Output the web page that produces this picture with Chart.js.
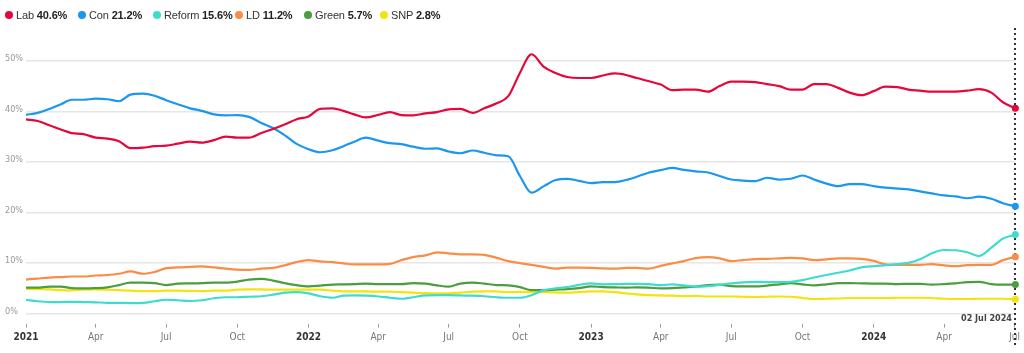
<!DOCTYPE html>
<html>
<head>
<meta charset="utf-8">
<script src="https://cdn.jsdelivr.net/npm/chart.js@4.4.1/dist/chart.umd.min.js"></script>
<style>
  html, body { margin: 0; padding: 0; background: #fff; }
  #wrap { position: relative; width: 1024px; height: 353px; }
  #chart { position: absolute; left: 0; top: 0; }
  #legend {
    position: absolute; left: 0; top: 8px; width: 600px; height: 14px;
    font: 11px 'Liberation Sans', Arial, sans-serif; color: #333;
    letter-spacing: -0.15px; line-height: 14px;
  }
  #legend .item { position: absolute; top: 0; display: flex; align-items: center; white-space: pre; }
  #legend .dot { width: 8px; height: 8px; border-radius: 50%; margin-right: 3px; }
  #legend b { color: #222; }
</style>
</head>
<body>
<div id="wrap">
  <canvas id="chart" width="1024" height="353"></canvas>
  <div id="legend"></div>
</div>
<script>
// sample dates (1st and 16th of each month)
const dates = [
  '2021-01-01','2021-01-16','2021-02-01','2021-02-15','2021-03-01','2021-03-16','2021-04-01','2021-04-16','2021-05-01','2021-05-16','2021-06-01','2021-06-16',
  '2021-07-01','2021-07-16','2021-08-01','2021-08-16','2021-09-01','2021-09-16','2021-10-01','2021-10-16','2021-11-01','2021-11-16','2021-12-01','2021-12-16',
  '2022-01-01','2022-01-16','2022-02-01','2022-02-15','2022-03-01','2022-03-16','2022-04-01','2022-04-16','2022-05-01','2022-05-16','2022-06-01','2022-06-16',
  '2022-07-01','2022-07-16','2022-08-01','2022-08-16','2022-09-01','2022-09-16','2022-10-01','2022-10-16','2022-11-01','2022-11-16','2022-12-01','2022-12-16',
  '2023-01-01','2023-01-16','2023-02-01','2023-02-15','2023-03-01','2023-03-16','2023-04-01','2023-04-16','2023-05-01','2023-05-16','2023-06-01','2023-06-16',
  '2023-07-01','2023-07-16','2023-08-01','2023-08-16','2023-09-01','2023-09-16','2023-10-01','2023-10-16','2023-11-01','2023-11-16','2023-12-01','2023-12-16',
  '2024-01-01','2024-01-16','2024-02-01','2024-02-15','2024-03-01','2024-03-16','2024-04-01','2024-04-16','2024-05-01','2024-05-16','2024-06-01','2024-06-16',
  '2024-07-02'
];

const lab = [
  38.4, 38.1, 37.2, 36.4, 35.7, 35.5, 34.8, 34.6, 34.1, 32.7, 32.8, 33.1, 33.2, 33.6, 34.0, 33.8, 34.3, 35.0, 34.8, 34.8, 35.7, 36.5, 37.4, 38.4,
  39.0, 40.5, 40.6, 40.1, 39.4, 38.8, 39.3, 39.85, 39.25, 39.2, 39.6, 39.85, 40.4, 40.5, 39.7, 40.6, 41.6, 43.0, 47.6, 51.3, 48.8, 47.6, 46.8, 46.6,
  46.6, 47.1, 47.5, 47.2, 46.6, 46.0, 45.3, 44.2, 44.3, 44.3, 43.9, 45.0, 45.9, 45.9, 45.8, 45.4, 45.0, 44.3, 44.3, 45.4, 45.4, 44.65, 43.7, 43.2,
  44.0, 44.9, 44.8, 44.3, 44.1, 43.9, 43.9, 43.9, 44.1, 44.4, 43.7, 41.8, 40.6
];
const con = [
  39.3, 39.7, 40.5, 41.4, 42.3, 42.3, 42.5, 42.4, 42.0, 43.3, 43.5, 43.1, 42.2, 41.4, 40.6, 40.1, 39.4, 39.2, 39.25, 38.9, 37.7, 36.7, 35.3, 33.6,
  32.5, 31.9, 32.3, 33.1, 34.0, 34.8, 34.2, 33.7, 33.5, 33.0, 32.6, 32.65, 32.05, 31.7, 32.25, 31.8, 31.3, 31.1, 27.2, 23.9, 25.2, 26.4, 26.65, 26.25,
  25.8, 26.0, 26.0, 26.4, 27.05, 27.85, 28.35, 28.8, 28.4, 28.1, 27.9, 27.2, 26.5, 26.3, 26.2, 26.85, 26.5, 26.65, 27.3, 26.5, 25.7, 25.2, 25.6, 25.6,
  25.2, 24.9, 24.7, 24.55, 24.15, 23.75, 23.35, 23.15, 22.8, 23.1, 22.7, 21.8, 21.2
];
const reform = [
  2.7, 2.4, 2.25, 2.25, 2.3, 2.25, 2.2, 2.1, 2.1, 2.05, 2.1, 2.4, 2.7, 2.6, 2.45, 2.6, 3.0, 3.2, 3.2, 3.3, 3.4, 3.7, 4.1, 4.2,
  3.95, 3.4, 3.1, 3.5, 3.55, 3.5, 3.35, 3.1, 2.9, 3.2, 3.55, 3.6, 3.6, 3.55, 3.5, 3.4, 3.2, 3.1, 3.1, 3.6, 4.6, 4.95, 5.2, 5.65,
  5.95, 5.75, 5.8, 5.85, 5.85, 5.8, 5.6, 5.75, 5.55, 5.3, 5.4, 5.65, 5.95, 6.15, 6.25, 6.2, 6.2, 6.25, 6.6, 7.1, 7.6, 8.05, 8.5, 9.1,
  9.35, 9.55, 9.75, 10.0, 10.7, 11.9, 12.55, 12.5, 12.1, 11.35, 13.0, 14.8, 15.6
];
const ld = [
  6.7, 6.9, 7.1, 7.2, 7.3, 7.3, 7.5, 7.6, 7.85, 8.3, 7.85, 8.2, 8.95, 9.1, 9.2, 9.3, 9.1, 8.85, 8.65, 8.6, 8.85, 9.0, 9.5, 10.15,
  10.55, 10.3, 10.15, 9.9, 9.7, 9.7, 9.7, 9.8, 10.55, 11.15, 11.5, 12.1, 11.9, 11.7, 11.7, 11.6, 11.0, 10.35, 9.95, 9.6, 9.2, 8.85, 9.05, 9.05,
  9.0, 8.9, 8.85, 9.0, 9.0, 8.85, 9.4, 9.9, 10.35, 10.95, 11.15, 10.9, 10.35, 10.55, 10.75, 10.8, 10.9, 11.0, 10.9, 10.55, 10.7, 10.9, 10.9, 10.8,
  10.4, 9.7, 9.6, 9.6, 9.6, 9.75, 9.5, 9.35, 9.55, 9.6, 9.6, 10.55, 11.2
];
const green = [
  5.1, 5.1, 5.3, 5.3, 5.0, 4.95, 5.0, 5.15, 5.6, 6.1, 6.1, 6.0, 5.6, 5.9, 5.95, 6.0, 6.1, 6.1, 6.3, 6.7, 6.85, 6.5, 6.0, 5.6,
  5.35, 5.5, 5.7, 5.75, 5.8, 5.9, 5.8, 5.8, 5.8, 6.0, 5.9, 5.55, 5.3, 5.9, 6.1, 5.9, 5.6, 5.55, 5.2, 4.6, 4.6, 4.7, 4.8, 5.0,
  5.35, 5.2, 5.15, 5.1, 5.15, 5.1, 4.95, 5.0, 5.15, 5.3, 5.6, 5.7, 5.4, 5.35, 5.35, 5.5, 5.75, 6.0, 5.75, 5.55, 5.75, 6.0, 6.0, 5.95,
  5.9, 5.9, 5.8, 5.85, 5.85, 5.7, 5.8, 5.95, 6.2, 6.25, 5.8, 5.7, 5.7
];
const snp = [
  4.9, 4.8, 4.75, 4.6, 4.55, 4.7, 4.75, 4.7, 4.6, 4.5, 4.4, 4.4, 4.5, 4.5, 4.45, 4.4, 4.5, 4.5, 4.7, 4.75, 4.75, 4.7, 4.7, 4.7,
  4.7, 4.7, 4.5, 4.35, 4.35, 4.35, 4.3, 4.3, 4.2, 4.1, 4.0, 3.95, 3.95, 4.1, 4.3, 4.35, 4.35, 4.2, 4.25, 4.2, 4.2, 4.15, 4.1, 4.2,
  4.35, 4.35, 4.2, 3.95, 3.75, 3.6, 3.55, 3.5, 3.4, 3.45, 3.35, 3.35, 3.35, 3.3, 3.25, 3.3, 3.35, 3.3, 3.05, 2.85, 2.9, 2.95, 3.05, 3.05,
  3.05, 3.05, 3.1, 3.1, 3.1, 3.05, 2.9, 2.85, 2.85, 2.9, 2.9, 2.9, 2.8
];

const tickDates = [
  '2021-01-01','2021-04-01','2021-07-01','2021-10-01',
  '2022-01-01','2022-04-01','2022-07-01','2022-10-01',
  '2023-01-01','2023-04-01','2023-07-01','2023-10-01',
  '2024-01-01','2024-04-01','2024-07-01'
];
const tickLabels = ['2021','Apr','Jul','Oct','2022','Apr','Jul','Oct','2023','Apr','Jul','Oct','2024','Apr','Jul'];
const yTicks = [0, 10, 20, 30, 40, 50];
const lastLabel = '02 Jul 2024';

const t0 = Date.parse('2021-01-01');
const toDay = d => Math.round((Date.parse(d) - t0) / 86400000);
const days = dates.map(toDay);
const tickDays = tickDates.map(toDay);
const lastDay = days[days.length - 1];

const parties = [
  { name: 'Lab', values: lab, color: '#e5063c' },
  { name: 'Con', values: con, color: '#1a97f0' },
  { name: 'Reform', values: reform, color: '#3ddccd' },
  { name: 'LD', values: ld, color: '#fb8c45' },
  { name: 'Green', values: green, color: '#4b9d3f' },
  { name: 'SNP', values: snp, color: '#f3e30e' }
];
// left edge of each legend entry, px
const legendLeft = [5, 78, 153, 235, 304, 380];

const axisFont = "'Liberation Sans Narrow', 'DejaVu Sans Condensed', Arial, sans-serif";

// legend (html)
const legend = document.getElementById('legend');
parties.forEach((p, i) => {
  const last = p.values[p.values.length - 1];
  const item = document.createElement('div');
  item.className = 'item';
  item.style.left = legendLeft[i] + 'px';
  item.innerHTML = `<span class="dot" style="background:${p.color}"></span>${p.name} <b>${last.toFixed(1)}%</b>`;
  legend.appendChild(item);
});

// dotted end line + date label
const endMarker = {
  id: 'endMarker',
  beforeDatasetsDraw(chart) {
    const { ctx, chartArea, scales: { x, y } } = chart;
    const px = Math.round(x.getPixelForValue(lastDay));
    ctx.save();
    ctx.strokeStyle = '#333';
    ctx.lineWidth = 2;
    ctx.setLineDash([2, 3]);
    ctx.beginPath();
    ctx.moveTo(px, chartArea.top);
    ctx.lineTo(px, chart.height - 5);
    ctx.stroke();
    ctx.setLineDash([]);
    ctx.font = `bold 9px ${axisFont}`;
    ctx.fillStyle = '#444';
    ctx.textAlign = 'right';
    ctx.textBaseline = 'middle';
    ctx.fillText(lastLabel, px - 3, y.getPixelForValue(-1));
    ctx.restore();
  }
};

new Chart(document.getElementById('chart'), {
  type: 'line',
  data: {
    datasets: parties.map(p => ({
      label: p.name,
      data: p.values.map((v, i) => ({ x: days[i], y: v })),
      borderColor: p.color,
      backgroundColor: p.color,
      borderWidth: 2.2,
      cubicInterpolationMode: 'monotone',
      pointRadius: c => (c.dataIndex === p.values.length - 1 ? 3.5 : 0),
      pointBorderWidth: 0,
      pointHoverRadius: 0,
      clip: false
    }))
  },
  options: {
    responsive: false,
    animation: false,
    devicePixelRatio: 1,
    layout: { padding: { top: 28, left: 5, right: 7.5, bottom: 0 } },
    plugins: { legend: { display: false }, tooltip: { enabled: false } },
    scales: {
      x: {
        type: 'linear',
        min: 0,
        max: lastDay,
        afterBuildTicks: s => { s.ticks = tickDays.map(v => ({ value: v })); },
        afterFit: s => { s.height = 29.5; },
        border: { display: false },
        grid: { drawOnChartArea: false, drawTicks: true, tickLength: 4, color: '#999', lineWidth: 1 },
        ticks: {
          autoSkip: false,
          maxRotation: 0,
          padding: 4,
          callback: (v, i) => tickLabels[i],
          font: c => ({ family: axisFont, size: 10, weight: /^\d{4}$/.test(tickLabels[c.index]) ? 'bold' : 'normal' }),
          color: c => (/^\d{4}$/.test(tickLabels[c.index]) ? '#333' : '#777')
        }
      },
      y: {
        min: -2,
        max: 56.5,
        afterBuildTicks: s => { s.ticks = yTicks.map(v => ({ value: v })); },
        afterFit: s => { s.width = 21; },
        border: { display: false },
        grid: { drawTicks: false, color: '#e6e6e6', lineWidth: 1.5 },
        ticks: {
          crossAlign: 'far',
          padding: 0,
          labelOffset: -2,
          callback: v => v + '%',
          font: { family: axisFont, size: 9 },
          color: '#999'
        }
      }
    }
  },
  plugins: [endMarker]
});
</script>
</body>
</html>
